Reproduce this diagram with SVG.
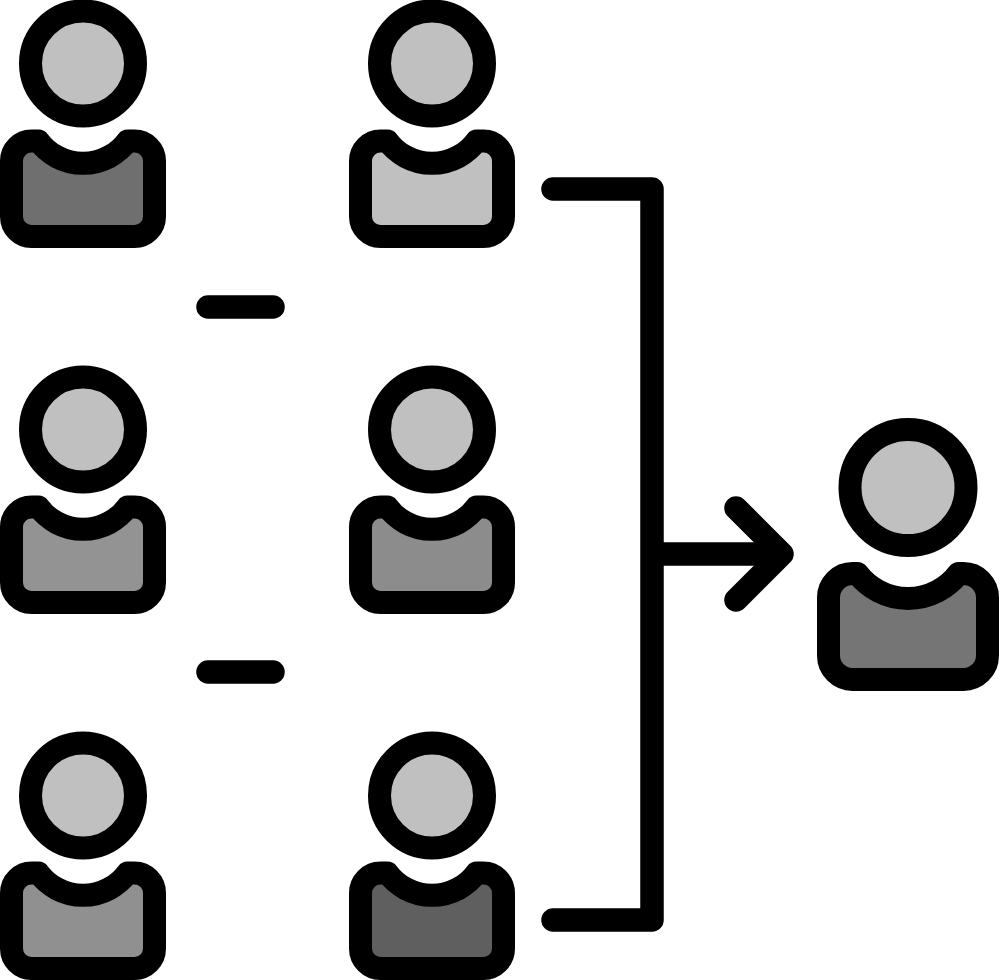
<svg xmlns="http://www.w3.org/2000/svg" width="999" height="980" viewBox="0 0 999 980">
<style>
.o{stroke:#000;stroke-width:23;stroke-linejoin:round;stroke-linecap:round}
.h{fill:#c0c0c0}
.c{fill:none;stroke:#000;stroke-width:23.5;stroke-linejoin:round;stroke-linecap:round}
</style>
<defs>
<circle id="head" class="o h" cx="83" cy="63.500" r="52.500"/>
<path id="body" d="M38.500 141A55.500 55.500 0 0 0 127.500 141H134.500A20 20 0 0 1 154.500 161V216.500A20 20 0 0 1 134.500 236.500H31.500A20 20 0 0 1 11.500 216.500V161A20 20 0 0 1 31.500 141Z"/>
</defs>
<rect width="999" height="980" fill="#fff"/>
<g id="connectors">
<path class="c" d="M553 189H652V920H553"/>
<path class="c" d="M660 554H780"/>
<path class="c" d="M736 508L782 554L736 600"/>
<path class="c" d="M208 307H273"/>
<path class="c" d="M208 672H273"/>
</g>
<g id="person-1-1"><use href="#head"/><use href="#body" class="o" fill="#6f6f6f"/></g>
<g id="person-1-2" transform="translate(349 0)"><use href="#head"/><use href="#body" class="o" fill="#c0c0c0"/></g>
<g id="person-2-1" transform="translate(0 366)"><use href="#head"/><use href="#body" class="o" fill="#939393"/></g>
<g id="person-2-2" transform="translate(349 366)"><use href="#head"/><use href="#body" class="o" fill="#8c8c8c"/></g>
<g id="person-3-1" transform="translate(0 732)"><use href="#head"/><use href="#body" class="o" fill="#909090"/></g>
<g id="person-3-2" transform="translate(349 732)"><use href="#head"/><use href="#body" class="o" fill="#5f5f5f"/></g>
<g id="person-result">
<circle class="o h" cx="908" cy="487.500" r="58"/>
<path class="o" fill="#757575" d="M857.500 573.500A63.500 63.500 0 0 0 958.500 573.500H963.500A24 24 0 0 1 987.500 597.500V655.500A24 24 0 0 1 963.500 679.500H852.500A24 24 0 0 1 828.500 655.500V597.500A24 24 0 0 1 852.500 573.500Z"/>
</g>
</svg>
